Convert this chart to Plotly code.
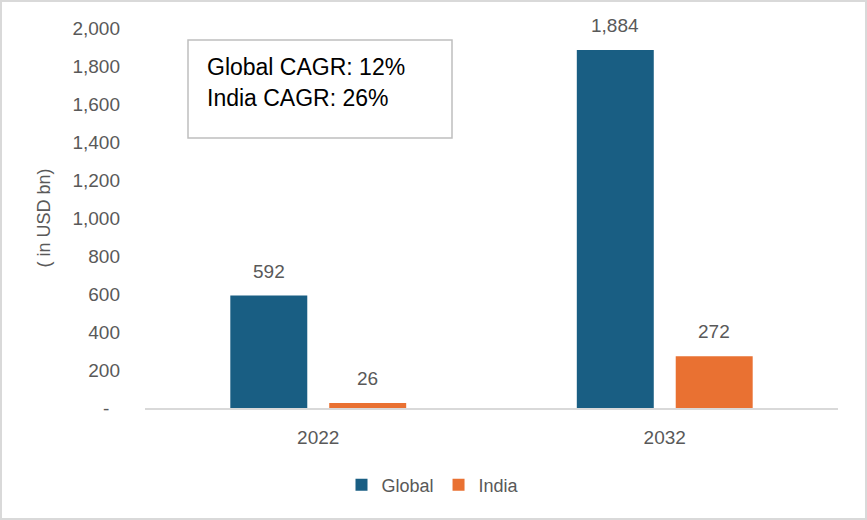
import plotly.graph_objects as go

years = ["2022", "2032"]
global_vals = [592, 1884]
india_vals = [26, 272]
y_tickvals = [0, 200, 400, 600, 800, 1000, 1200, 1400, 1600, 1800, 2000]
y_ticktext = ["-\u00a0\u00a0", "200", "400", "600", "800", "1,000", "1,200", "1,400", "1,600", "1,800", "2,000"]
notes = ["Global CAGR: 12%", "India CAGR: 26%"]

W, H = 867, 520
L, R, T, B = 145, 29, 28, 112
pw, ph = W - L - R, H - T - B

def px(x):
    return (x - L) / pw

def py(y):
    return (H - B - y) / ph

FONT = "Liberation Sans, Arial"
GRAY = "#595959"
BARGAP, GROUPGAP = 0.429, 0.222
slot = pw / len(years)
bar_off = slot * (1 - BARGAP) / 4  # pixel offset of each bar centre from category centre

fig = go.Figure()
fig.add_trace(go.Bar(name="Global", x=years, y=global_vals, marker_color="#195E83",
                     marker_line_width=0))
fig.add_trace(go.Bar(name="India", x=years, y=india_vals, marker_color="#E97132",
                     marker_line_width=0))

for vals, sign in [(global_vals, -1), (india_vals, 1)]:
    for i, v in enumerate(vals):
        fig.add_annotation(x=i, y=v, xref="x", yref="y", text=f"{v:,}", showarrow=False,
                           xanchor="center", yanchor="bottom", xshift=sign * bar_off, yshift=12,
                           font=dict(size=19, color=GRAY, family=FONT))

fig.update_layout(
    width=W, height=H,
    margin=dict(l=L, r=R, t=T, b=B),
    paper_bgcolor="white", plot_bgcolor="white",
    barmode="group", bargap=BARGAP, bargroupgap=GROUPGAP,
    font=dict(family=FONT, color=GRAY, size=19),
    showlegend=True,
    legend=dict(orientation="h", x=px(433), y=py(485), xanchor="center", yanchor="middle",
                font=dict(size=18, color=GRAY, family=FONT), itemwidth=30, traceorder="normal"),
    xaxis=dict(type="category", showgrid=False, showline=True, linecolor="#D9D9D9", linewidth=1.5,
               ticks="", tickfont=dict(size=19, color=GRAY), ticklabelstandoff=11),
    yaxis=dict(range=[0, 2000], showgrid=False, zeroline=False, showline=False,
               tickvals=y_tickvals, ticktext=y_ticktext, ticks="",
               tickfont=dict(size=19, color=GRAY), ticklabelstandoff=24,
               title=dict(text="( in USD bn)", font=dict(size=18, color=GRAY), standoff=17)),
)

# outer border
fig.add_shape(type="rect", xref="paper", yref="paper",
              x0=px(1), x1=px(866), y0=py(519), y1=py(1),
              line=dict(color="#D9D9D9", width=2), fillcolor="rgba(0,0,0,0)", layer="below")
# CAGR box
fig.add_shape(type="rect", xref="paper", yref="paper",
              x0=px(188), x1=px(452), y0=py(138), y1=py(40),
              line=dict(color="#BFBFBF", width=1.5), fillcolor="white")
for txt, yy in zip(notes, [67, 98]):
    fig.add_annotation(text=txt, xref="paper", yref="paper", x=px(205), y=py(yy),
                       xanchor="left", yanchor="middle", showarrow=False,
                       font=dict(size=23, color="#000000", family="Liberation Sans, Arial"))

fig.write_html("out.html")
